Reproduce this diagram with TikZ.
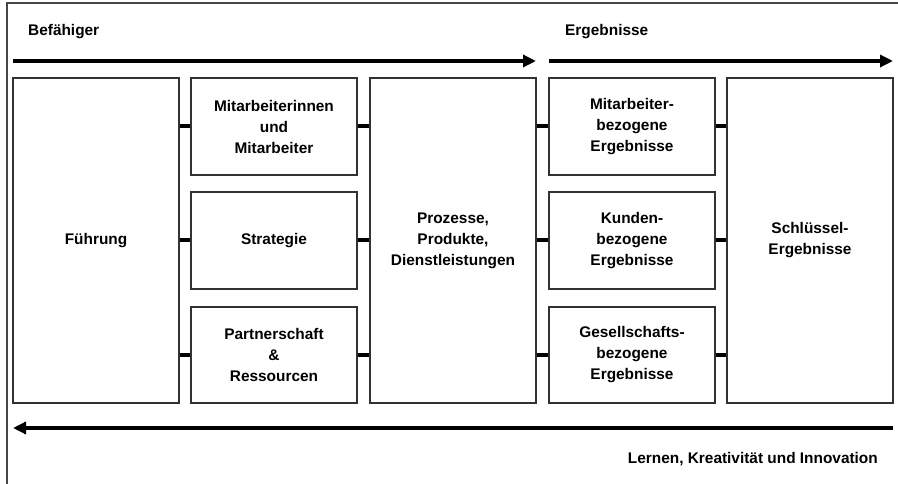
\documentclass[tikz,border=0pt]{standalone}
\usepackage{fontspec}
\setmainfont{Liberation Sans}
\usetikzlibrary{arrows.meta}
\definecolor{boxgray}{RGB}{50,50,50}
\definecolor{framegray}{RGB}{70,70,70}
\begin{document}
\begin{tikzpicture}[x=1pt,y=-1pt,
  txt/.style={font=\fontsize{15.4}{21}\selectfont\bfseries},
  box/.style={txt, draw=boxgray, line width=1.3pt, fill=white, align=center, inner sep=0pt, minimum width=166pt},
  conn/.style={line width=4pt},
  bigarrow/.style={line width=4pt, -{Triangle[length=13pt,width=12pt]}},
  lbl/.style={txt, inner sep=0pt}]
\useasboundingbox (0,0) rectangle (898,484);
% outer frame
\draw[framegray, line width=1.3pt] (7,484) -- (7,3) -- (898,3);

% boxes
\node[box, minimum height=325pt] (fuehrung) at (96,240.5) {Führung};
\node[box, minimum height=97pt] (mit) at (274,126.5) {Mitarbeiterinnen\\und\\Mitarbeiter};
\node[box, minimum height=97pt] (strat) at (274,240.5) {Strategie};
\node[box, minimum height=96pt] (partner) at (274,355) {Partnerschaft\\\&\\Ressourcen};
\node[box, minimum height=325pt] (proz) at (453,240.5) {Prozesse,\\Produkte,\\Dienstleistungen};
\node[box, minimum height=97pt] (mbe) at (632,126.5) {Mitarbeiter-\\bezogene\\Ergebnisse};
\node[box, minimum height=97pt] (kbe) at (632,240.5) {Kunden-\\bezogene\\Ergebnisse};
\node[box, minimum height=96pt] (gbe) at (632,355) {Gesellschafts-\\bezogene\\Ergebnisse};
\node[box, minimum height=325pt] (schl) at (810,240.5) {Schlüssel-\\Ergebnisse};

% connectors
\foreach \n in {mit,strat,partner}{
  \draw[conn] (\n.west -| fuehrung.east) -- (\n.west);
  \draw[conn] (\n.east) -- (\n.east -| proz.west);
}
\foreach \n in {mbe,kbe,gbe}{
  \draw[conn] (\n.west -| proz.east) -- (\n.west);
  \draw[conn] (\n.east) -- (\n.east -| schl.west);
}

% arrows
\coordinate (a1s) at (13,61);
\coordinate (a1e) at (536,61);
\coordinate (a2s) at (549,61);
\coordinate (a2e) at (893,61);
\coordinate (a3s) at (893,428);
\coordinate (a3e) at (13,428);
\draw[bigarrow] (a1s) -- (a1e);
\draw[bigarrow] (a2s) -- (a2e);
\draw[bigarrow] (a3s) -- (a3e);

% labels
\node[lbl, anchor=west] (befaehiger) at (28,32) {Befähiger};
\node[lbl, anchor=west] (ergebnisse) at (565,32) {Ergebnisse};
\node[lbl, anchor=east] (lernen) at (878,459) {Lernen, Kreativität und Innovation};
\end{tikzpicture}
\end{document}
